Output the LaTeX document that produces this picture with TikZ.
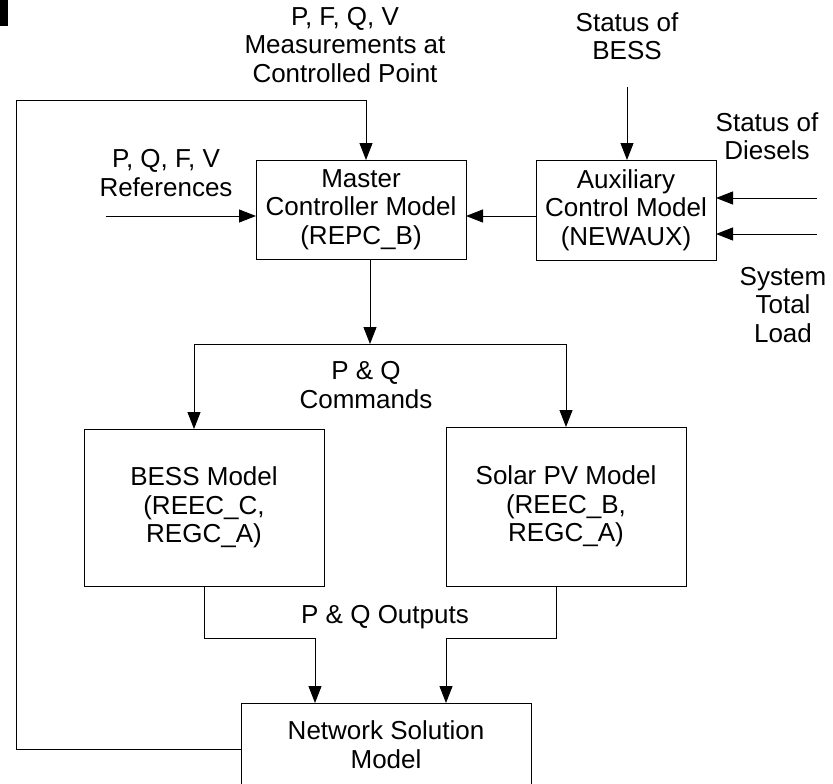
\documentclass[tikz,border=0pt]{standalone}
\usepackage{fontspec}
\setmainfont{Liberation Sans}
\usetikzlibrary{arrows.meta}

\begin{document}
\begin{tikzpicture}[x=1pt,y=-1pt,
      every node/.style={font=\fontsize{26}{28.5}\selectfont,align=center},
      blk/.style={draw,line width=1pt,outer sep=0pt,inner sep=2pt},
      arr/.style={line width=1pt,-{Triangle[length=17pt,width=13pt]}},
      wire/.style={line width=1pt}]
    \useasboundingbox (0,0) rectangle (833,784);
    \fill (0,0) rectangle (8,26);

    % blocks
    \node[blk,minimum width=210pt,minimum height=99pt] (master) at (361,209.5)
        {Master\\Controller Model\\(REPC\_B)};
    \node[blk,minimum width=180pt,minimum height=100pt] (aux) at (626,210)
        {Auxiliary\\Control Model\\(NEWAUX)};
    \node[blk,minimum width=240pt,minimum height=157pt] (bess) at (204,507.5)
        {BESS Model\\(REEC\_C,\\REGC\_A)};
    \node[blk,minimum width=240pt,minimum height=159pt] (solar) at (566,506.5)
        {Solar PV Model\\(REEC\_B,\\REGC\_A)};
    \node[blk,minimum width=290pt,minimum height=83pt] (net) at (386,744.5)
        {Network Solution\\Model};

    % labels
    \node (lblmeas) at (345,45) {P, F, Q, V\\Measurements at\\Controlled Point};
    \node (lblbess) at (627,36) {Status of\\BESS};
    \node (lbldsl) at (767,136) {Status of\\Diesels};
    \node (lblload) at (783,305) {System\\Total\\Load};
    \node (lblref) at (166,173) {P, Q, F, V\\References};
    \node (lblcmd) at (366,385) {P \& Q\\Commands};
    \node (lblout) at (385,617) {P \& Q Outputs};

    % free ends
    \coordinate (refin) at (106,216);
    \coordinate (bessin) at (627,87);
    \coordinate (dslin) at (817,198);
    \coordinate (loadin) at (817,234);
    \coordinate (fbk) at (16,100);
    \coordinate (split) at (370,344);
    \coordinate (outl) at (315,638);
    \coordinate (outr) at (446,638);

    % connectors
    \draw[arr] (refin) -- (refin -| master.west);
    \draw[arr] ([yshift=-6pt]aux.west) -- ([yshift=-6pt]aux.west -| master.east);
    \draw[arr] (bessin) -- (bessin |- aux.north);
    \draw[arr] (dslin) -- (dslin -| aux.east);
    \draw[arr] (loadin) -- (loadin -| aux.east);
    \draw[arr] ([yshift=-5pt]net.west) -| (fbk) -| ([xshift=5pt]master.north);
    \draw[arr] (master.south -| split) -- (split);
    \draw[arr] (split) -| ([xshift=-10pt]bess.north);
    \draw[arr] (split) -| (solar.north);
    \draw[arr] (bess.south) |- (outl) -- (outl |- net.north);
    \draw[arr] ([xshift=-10pt]solar.south) |- (outr) -- (outr |- net.north);

\end{tikzpicture}
\end{document}
